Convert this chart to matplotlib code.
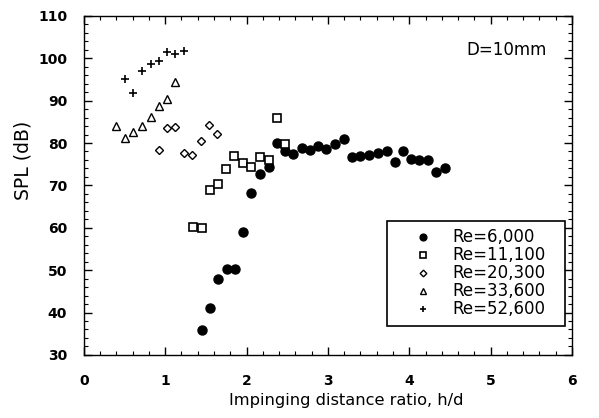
import matplotlib
matplotlib.use("Agg")
import matplotlib.pyplot as plt
from matplotlib.ticker import MultipleLocator

plt.rcParams['font.family'] = ['DejaVu Sans']

# Re=6,000
hd_6000 = [1.45, 1.55, 1.65, 1.76, 1.86, 1.96, 2.06, 2.16, 2.27, 2.37, 2.47, 2.57, 2.68, 2.78,
           2.88, 2.98, 3.09, 3.20, 3.29, 3.40, 3.51, 3.62, 3.72, 3.82, 3.92, 4.02, 4.12, 4.23,
           4.33, 4.44]
spl_6000 = [35.8, 41.1, 47.8, 50.3, 50.2, 59.0, 68.3, 72.8, 74.4, 79.9, 78.1, 77.3, 78.8, 78.4,
            79.2, 78.5, 79.7, 81.0, 76.8, 77.0, 77.2, 77.6, 78.0, 75.6, 78.2, 76.2, 76.0, 76.0,
            73.1, 74.2]
# Re=11,100
hd_11100 = [1.34, 1.45, 1.55, 1.65, 1.75, 1.85, 1.96, 2.06, 2.16, 2.27, 2.37, 2.47]
spl_11100 = [60.2, 60.0, 68.8, 70.3, 73.9, 76.9, 75.4, 74.4, 76.7, 76.1, 85.8, 79.8]
# Re=20,300
hd_20300 = [0.92, 1.02, 1.12, 1.23, 1.33, 1.44, 1.54, 1.64]
spl_20300 = [78.4, 83.5, 83.8, 77.7, 77.2, 80.4, 84.3, 82.2]
# Re=33,600
hd_33600 = [0.40, 0.51, 0.61, 0.71, 0.82, 0.92, 1.02, 1.12]
spl_33600 = [84.0, 81.1, 82.7, 84.1, 86.1, 88.8, 90.3, 94.3]
# Re=52,600
hd_52600 = [0.50, 0.61, 0.71, 0.82, 0.92, 1.02, 1.12, 1.23]
spl_52600 = [95.1, 91.7, 96.9, 98.6, 99.4, 101.4, 101.0, 101.8]

labels = ['Re=6,000', 'Re=11,100', 'Re=20,300', 'Re=33,600', 'Re=52,600']

fig = plt.figure(figsize=(5.99, 4.18), dpi=100)
ax = fig.add_axes([0.140, 0.151, 0.815, 0.811])

ax.plot(hd_6000, spl_6000, 'o', color='black', markersize=6.5, linestyle='none', label=labels[0])
ax.plot(hd_11100, spl_11100, 's', mfc='white', mec='black', mew=1.2, markersize=6.3,
        linestyle='none', label=labels[1])
ax.plot(hd_20300, spl_20300, 'D', mfc='white', mec='black', mew=1.0, markersize=4.5,
        linestyle='none', label=labels[2])
ax.plot(hd_33600, spl_33600, '^', mfc='white', mec='black', mew=1.0, markersize=5.5,
        linestyle='none', label=labels[3])
ax.plot(hd_52600, spl_52600, '+', color='black', mew=1.2, markersize=6,
        linestyle='none', label=labels[4])

ax.set_xlim(0, 6)
ax.set_ylim(30, 110)
ax.xaxis.set_major_locator(MultipleLocator(1))
ax.xaxis.set_minor_locator(MultipleLocator(0.2))
ax.yaxis.set_major_locator(MultipleLocator(10))
ax.yaxis.set_minor_locator(MultipleLocator(2))
ax.tick_params(which='both', direction='in', top=True, right=True)
ax.tick_params(which='major', length=6, width=1)
ax.tick_params(which='minor', length=3, width=0.8)
ax.tick_params(axis='both', labelsize=10)
ax.tick_params(axis='x', pad=14)
ax.tick_params(axis='y', pad=12)
for lbl in ax.get_xticklabels() + ax.get_yticklabels():
    lbl.set_fontweight('bold')
for s in ax.spines.values():
    s.set_linewidth(1.0)

ax.set_xlabel('Impinging distance ratio, h/d', fontsize=11.7)
ax.set_ylabel('SPL (dB)', fontsize=13.5)
ax.xaxis.set_label_coords(0.537, -0.112)
ax.yaxis.set_label_coords(-0.1045, 0.575)

ax.text(5.2, 102, 'D=10mm', fontsize=12, ha='center', va='center')

leg = ax.legend(loc='lower left', bbox_to_anchor=(0.621, 0.0855, 0.365, 0.3),
                mode='expand', borderaxespad=0,
                fontsize=12, fancybox=False, frameon=True, edgecolor='black',
                handletextpad=0.1, labelspacing=0.0, markerscale=0.75,
                borderpad=0.45, handlelength=3.4)
leg.get_frame().set_linewidth(1.2)
leg.get_frame().set_alpha(1)

fig.savefig('out.png', dpi=100)
